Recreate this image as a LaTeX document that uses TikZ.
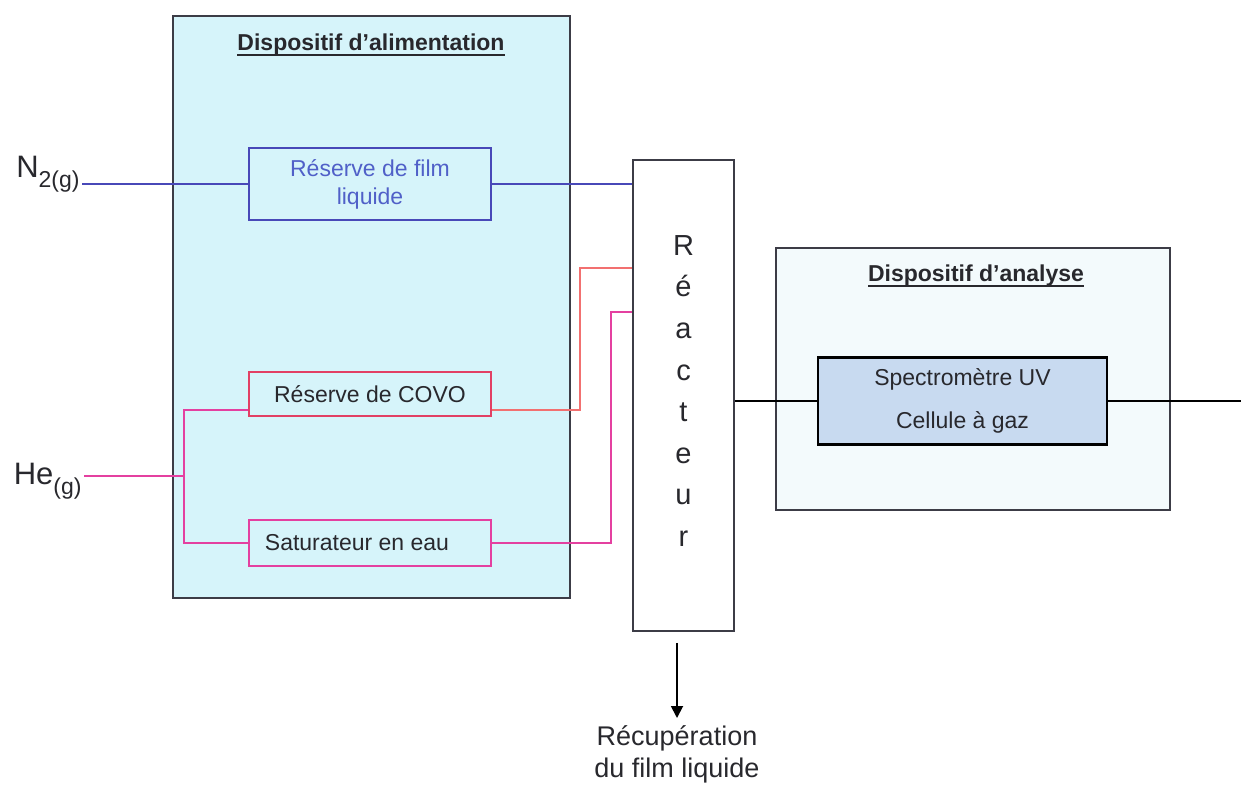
\documentclass[tikz,border=0pt]{standalone}
\usepackage{fontspec}
\setmainfont{Liberation Sans}
\usetikzlibrary{arrows.meta,calc}
\definecolor{bordgris}{RGB}{60,60,70}
\definecolor{textgris}{RGB}{40,40,45}
\definecolor{fondalim}{RGB}{214,244,250}
\definecolor{fondanal}{RGB}{243,250,252}
\definecolor{fondspec}{RGB}{200,218,240}
\definecolor{bleuN}{RGB}{72,72,184}
\definecolor{bleutxt}{RGB}{80,96,200}
\definecolor{rougecovo}{RGB}{226,64,100}
\definecolor{saumon}{RGB}{242,112,112}
\definecolor{magenta}{RGB}{228,64,160}
\newcommand\souligne[1]{\setbox0\hbox{#1}\rlap{\vrule height -1.5pt depth 2.5pt width \wd0}\box0}
\begin{document}
\begin{tikzpicture}[x=0.5pt,y=-0.5pt,
  txt/.style={font=\fontsize{11.5}{14}\selectfont, text=textgris},
  titre/.style={font=\fontsize{11.5}{14}\selectfont\bfseries, text=textgris},
  gaz/.style={font=\fontsize{15.5}{18}\selectfont, text=textgris, inner sep=1pt},
  cadre/.style={draw=bordgris, line width=0.8pt},
  boite/.style={txt, draw, line width=1pt, minimum width=121pt, align=center},
  fil/.style={line width=0.9pt}]
\useasboundingbox (0,0) rectangle (1241,784);

\node[cadre, fill=fondalim, minimum width=198.5pt, minimum height=291pt] (alim) at (371.5,307) {};
\node[titre] (titrealim) at (371,45) {\souligne{Dispositif d’alimentation}};
\node[cadre, fill=fondanal, minimum width=197pt, minimum height=131pt] (anal) at (973,379) {};
\node[titre] (titreanal) at (976,276) {\souligne{Dispositif d’analyse}};

\node[boite, draw=bleuN, text=bleutxt, minimum height=36pt] (film) at (370,184) {Réserve de film\\liquide};
\node[boite, draw=rougecovo, minimum height=22pt] (covo) at (370,394) {Réserve de COVO};
\node[boite, draw=magenta, minimum height=23pt] (sat) at (370,543) {Saturateur en eau\hspace*{13pt}};

\node[cadre, fill=white, txt, align=center, minimum width=50.5pt, minimum height=235.5pt,
  font=\fontsize{14.5}{20.8}\selectfont] (reac) at (683.5,395.5) {R\\é\\a\\c\\t\\e\\u\\r\rule[-4.5pt]{0pt}{4.5pt}};

\node[txt, draw=black, line width=1.2pt, fill=fondspec, align=center, minimum width=144.5pt,
  minimum height=43.5pt, font=\fontsize{11.5}{21.5}\selectfont] (spec) at (962.5,401) {Spectromètre UV\\Cellule à gaz};

\node[gaz, anchor=base east] (n2) at (82,177) {N\raisebox{-5pt}{\fontsize{11.5}{12}\selectfont 2(g)}};
\node[gaz, anchor=base east] (he) at (84,484) {He\raisebox{-5pt}{\fontsize{11.5}{12}\selectfont (g)}};

\node[txt, anchor=north, align=center, inner sep=0pt, font=\fontsize{13.5}{16}\selectfont] (recup) at (677,725) {Récupération\\du film liquide};

\coordinate (k1) at (580,268);
\coordinate (k2) at (611,312);
\coordinate (split) at (184,476);
\coordinate (sortie) at (1241,398);

\draw[fil, bleuN] (n2.east |- film.west) -- (film.west);
\draw[fil, bleuN] (film.east) -- (film.east -| reac.west);
\draw[line width=0.6pt, saumon] ($(covo.south east)+(0,-7)$) -| (k1) -- (k1 -| reac.west);
\draw[fil, magenta] (sat.east) -| (k2) -- (k2 -| reac.west);
\draw[fil, magenta] (he.east |- split) -- (split);
\draw[fil, magenta] ($(covo.south west)+(0,-7)$) -| (split) |- (sat.west);
\draw[fil] (reac.east |- spec.west) -- (spec.west);
\draw[fil] (spec.east) -- (spec.east -| sortie);
\draw[fil, -{Triangle[width=6pt,length=6pt]}] ($(reac.south -| recup.north)+(0,11)$) -- ($(recup.north)+(0,-7)$);
\end{tikzpicture}
\end{document}
